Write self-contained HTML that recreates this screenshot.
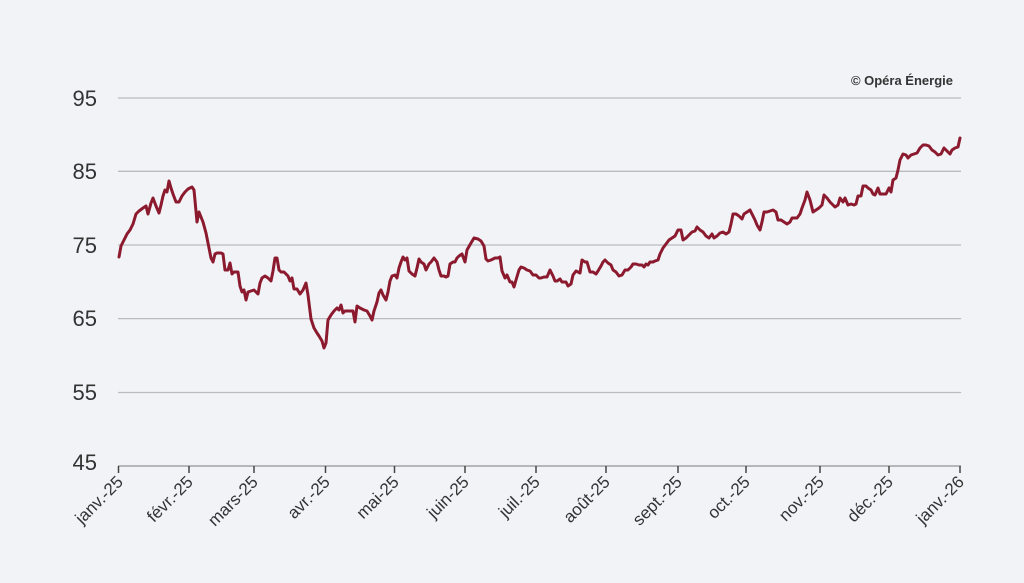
<!DOCTYPE html>
<html><head><meta charset="utf-8"><style>
html,body{margin:0;padding:0;background:#f2f3f7;}
svg{display:block;font-family:"Liberation Sans","DejaVu Sans",sans-serif;}
</style></head><body>
<svg width="1024" height="583" viewBox="0 0 1024 583" xmlns="http://www.w3.org/2000/svg">
<rect width="1024" height="583" fill="#f2f3f7"/>
<g stroke="#b9bbc0" stroke-width="1.3">
<line x1="118" y1="98" x2="961" y2="98"/>
<line x1="118" y1="171.3" x2="961" y2="171.3"/>
<line x1="118" y1="245" x2="961" y2="245"/>
<line x1="118" y1="318.6" x2="961" y2="318.6"/>
<line x1="118" y1="392.5" x2="961" y2="392.5"/>
</g>
<line x1="118" y1="466" x2="961" y2="466" stroke="#8f9196" stroke-width="1.3"/>
<g stroke="#444" stroke-width="1.5">
<line x1="118.5" y1="466" x2="118.5" y2="473"/><line x1="189" y1="466" x2="189" y2="473"/><line x1="254" y1="466" x2="254" y2="473"/><line x1="325.5" y1="466" x2="325.5" y2="473"/><line x1="394.5" y1="466" x2="394.5" y2="473"/><line x1="465" y1="466" x2="465" y2="473"/><line x1="536" y1="466" x2="536" y2="473"/><line x1="606" y1="466" x2="606" y2="473"/><line x1="678" y1="466" x2="678" y2="473"/><line x1="746" y1="466" x2="746" y2="473"/><line x1="820" y1="466" x2="820" y2="473"/><line x1="889" y1="466" x2="889" y2="473"/><line x1="960" y1="466" x2="960" y2="473"/>
</g>
<g font-size="22" fill="#333" text-anchor="end">
<text x="97" y="106">95</text><text x="97" y="179">85</text><text x="97" y="253">75</text><text x="97" y="326">65</text><text x="97" y="400">55</text><text x="97" y="470">45</text>
</g>
<g font-size="17" fill="#333" text-anchor="end">
<text transform="translate(124,483) rotate(-45)">janv.-25</text>
<text transform="translate(194,483) rotate(-45)">févr.-25</text>
<text transform="translate(259,483) rotate(-45)">mars-25</text>
<text transform="translate(331,483) rotate(-45)">avr.-25</text>
<text transform="translate(400,483) rotate(-45)">mai-25</text>
<text transform="translate(470,483) rotate(-45)">juin-25</text>
<text transform="translate(541,483) rotate(-45)">juil.-25</text>
<text transform="translate(611,483) rotate(-45)">août-25</text>
<text transform="translate(683,483) rotate(-45)">sept.-25</text>
<text transform="translate(751,483) rotate(-45)">oct.-25</text>
<text transform="translate(825,483) rotate(-45)">nov.-25</text>
<text transform="translate(894,483) rotate(-45)">déc.-25</text>
<text transform="translate(965,483) rotate(-45)">janv.-26</text>
</g>
<text x="953" y="85" font-size="13" font-weight="bold" fill="#333" text-anchor="end">© Opéra Énergie</text>
<polyline fill="none" stroke="#8b1a2e" stroke-width="3" stroke-linejoin="round" stroke-linecap="round" points="119,257 121,246 124,240 127,234 130,230 133,224 136,214 139,211 143,208 146,206 148,214 151,203 153,198 156,206 159,213 161,205 163,196 165,190 167,192 169,181 171,188 173,194 176,202 179,202 182,196 185,192 188,189 192,187 194,190 197,222 199,212 201,217 203,222 206,233 209,248 211,258 213,262 215,254 217,253 221,253 223,254 225,270 228,270 230,263 232,274 234,272 238,272 240,286 242,292 244,290 246,300 248,292 251,291 254,290 258,294 260,283 262,278 265,276 268,278 271,281 273,271 275,258 277,258 279,270 281,272 284,272 288,276 290,281 292,278 294,289 297,289 300,294 303,290 306,283 308,295 311,319 314,328 317,333 319,336 322,341 324,348 326,343 328,320 331,315 334,311 337,308 339,310 341,305 343,313 345,311 349,311 353,311 355,322 357,306 360,308 364,310 367,311 370,316 372,320 374,311 377,302 379,293 381,290 383,295 386,300 388,292 390,281 392,276 395,275 397,278 399,268 401,262 403,257 405,260 407,258 409,271 412,274 415,276 417,268 419,259 421,262 424,264 426,270 429,264 431,262 434,258 437,262 439,270 441,276 444,276 446,277 448,276 450,264 453,262 455,262 457,258 459,256 462,254 465,262 467,250 471,243 474,238 478,239 481,241 484,246 486,259 488,261 491,260 495,258 498,258 500,257 502,271 505,278 507,275 510,282 512,282 514,287 516,280 519,270 521,267 524,268 527,270 530,271 533,275 536,275 539,278 541,278 544,277 547,277 550,270 553,276 555,281 557,281 560,279 562,282 566,282 568,286 571,284 573,275 576,271 580,273 582,260 585,262 587,262 590,272 593,272 596,274 598,271 601,266 603,262 605,260 608,263 611,265 613,270 616,272 619,276 622,275 625,270 628,270 631,267 633,264 636,264 639,265 642,265 644,267 646,264 648,265 650,262 653,262 655,261 658,260 660,254 663,248 666,244 669,240 672,238 675,236 678,230 681,230 683,240 686,238 689,235 692,232 695,231 697,227 700,230 703,232 706,236 709,238 712,234 714,238 717,236 720,233 723,232 726,234 729,232 731,224 733,214 736,214 739,216 742,219 744,214 747,212 750,210 752,214 755,220 757,225 760,230 762,222 764,212 767,212 770,211 773,210 776,212 778,220 781,220 784,222 787,224 790,222 792,218 795,218 797,218 800,214 802,208 805,200 807,192 810,200 813,212 816,210 819,208 822,205 824,195 827,198 830,202 832,204 835,207 838,205 840,198 843,202 845,198 848,205 851,204 854,205 856,204 858,196 861,196 863,186 866,186 868,188 871,190 873,194 875,195 878,188 880,194 883,194 886,194 889,188 891,192 893,180 896,178 898,170 900,160 903,154 906,155 908,158 911,155 914,154 917,153 920,148 923,145 926,145 929,146 932,150 935,152 938,155 941,154 944,148 947,151 950,154 952,150 955,148 958,147 960,138"/>
</svg>
</body></html>
